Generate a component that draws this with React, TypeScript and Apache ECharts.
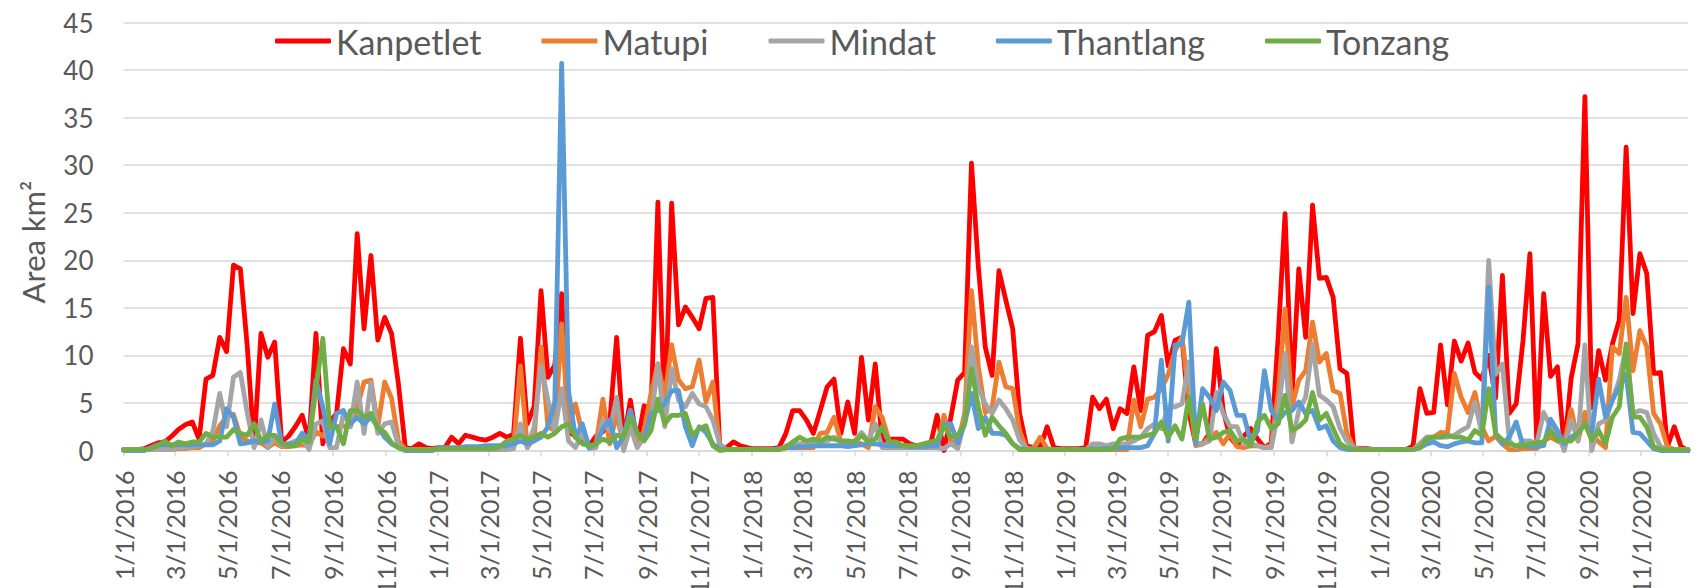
import React, { useEffect, useRef } from "react";
import * as echarts from "echarts";

// 8-day composites: 46 observations per year, starting Jan 1 of each year
const YEARS = [2016, 2017, 2018, 2019, 2020];
const STEP_DAYS = 8;
const SERIES_NAMES = ["Kanpetlet", "Matupi", "Mindat", "Thantlang", "Tonzang"];
const COLORS = ["#FF0000", "#ED7D31", "#A5A5A5", "#5B9BD5", "#70AD47"];
const Y_TICKS = [0, 5, 10, 15, 20, 25, 30, 35, 40, 45];

const kanpetlet = [
  [0.1,0.1,0.1,0.2,0.5,0.8,0.9,1.5,2.2,2.7,3.0,1.2,7.5,7.9,11.9,10.4,19.5,19.1,11,0.5,12.3,9.8,11.4,0.9,1.5,2.5,3.7,1.0,12.3,0.7,3.0,3.9,10.7,9.1,22.8,12.8,20.5,11.6,14.0,12.3,7,0.3,0.2,0.7,0.3,0.2],
  [0.3,0.3,1.4,0.7,1.6,1.4,1.2,1.1,1.4,1.8,1.4,1.7,11.8,2.8,4.6,16.8,7.7,9.0,16.5,2.0,1.5,1.0,0.5,1.5,2.0,3.0,11.9,1.0,5.3,0.7,4.7,4.2,26.1,3.0,26.0,13.2,15.1,14.0,12.8,16.0,16.1,0.3,0.3,0.9,0.5,0.3],
  [0.2,0.2,0.2,0.2,0.3,1.8,4.2,4.2,3.2,1.8,4.2,6.7,7.5,1.8,5.1,1.8,9.8,3.2,9.1,1.0,1.2,1.2,1.2,0.7,0.5,0.4,0.5,3.7,0.0,3.5,7.4,8.2,30.2,19.3,10.9,7.9,18.9,15.8,12.8,3.9,0.5,0.3,0.3,2.5,0.3,0.2],
  [0.2,0.2,0.2,0.3,5.6,4.4,5.4,2.3,4.4,3.9,8.8,4.2,12.1,12.5,14.2,8.9,11.6,11.9,4.0,0.7,0.7,1.8,10.7,4.2,1.4,0.5,1.5,2.3,1.2,0.3,0.8,12.0,24.9,5.6,19.1,11.9,25.8,18.1,18.2,16.1,8.6,8.1,0.3,0.2,0.2,0.1],
  [0.1,0.1,0.1,0.1,0.1,0.5,6.5,3.9,4.0,11.1,4.8,11.5,9.4,11.3,8.2,7.5,10.0,5.5,18.4,3.9,4.9,11.6,20.7,1.0,16.5,7.8,8.8,0.2,7.6,11.2,37.2,4.5,10.5,7.4,11.2,13.7,31.9,14.4,20.7,18.6,8.1,8.2,0.4,2.5,0.4,0.0],
];
const matupi = [
  [0.1,0.1,0.1,0.1,0.1,0.1,0.1,0.1,0.2,0.2,0.3,0.3,0.7,1.0,2.6,3.5,3.8,1.5,1.0,0.8,0.8,0.3,0.8,0.4,0.4,0.5,0.6,0.5,2.0,1.5,2.5,2.5,2.6,2.5,4.5,7.2,7.4,2.5,7.2,5.5,1.0,0.1,0.1,0.1,0.1,0.1],
  [0.1,0.1,0.1,0.1,0.1,0.1,0.1,0.1,0.1,0.2,0.3,0.3,8.9,0.3,1.4,10.9,2.5,2.1,13.3,2.5,4.9,1.8,0.3,0.7,5.4,0.7,3.9,0.5,4.2,0.6,2.1,6.0,9.1,5.6,11.1,7.4,6.5,6.7,9.5,5.1,7.2,0.3,0.1,0.1,0.1,0.1],
  [0.1,0.1,0.1,0.1,0.1,0.3,0.3,0.3,0.3,0.3,1.8,1.9,3.5,0.9,0.7,1.0,0.7,0.3,4.6,3.5,1.0,0.5,0.3,0.4,0.3,0.3,0.5,0.4,3.7,1.0,0.7,3.9,16.8,8.8,4.0,4.5,9.3,6.7,6.5,2.1,0.2,0.2,1.4,0.2,0.1,0.1],
  [0.1,0.1,0.1,0.1,0.1,0.1,0.1,0.1,0.1,0.1,5.3,2.5,5.4,5.6,6.5,8.0,10.5,11.9,6.0,0.5,0.7,1.4,1.9,0.7,1.8,0.4,0.3,0.5,0.5,0.3,0.5,6.0,14.9,4.6,7.4,8.4,13.5,9.3,10.2,6.3,6.0,1.8,0.3,0.1,0.1,0.1],
  [0.1,0.1,0.1,0.1,0.1,0.1,0.7,1.4,1.4,1.9,1.8,8.1,5.6,4.0,6.1,2.5,1.0,1.5,0.7,0.1,0.1,0.2,0.2,0.2,1.0,1.4,1.0,0.7,4.3,1.0,4.0,1.8,0.9,0.3,10.9,10.2,16.1,8.4,12.6,10.9,3.9,2.8,0.4,0.1,0.1,0.1],
];
const mindat = [
  [0.1,0.1,0.1,0.1,0.1,0.1,0.1,0.1,0.3,0.3,0.4,0.5,0.7,2.0,6.0,2.5,7.7,8.2,4.0,0.3,3.2,0.3,1.4,0.5,0.7,1.0,1.2,0.1,2.8,3.1,0.3,0.3,3.9,2.5,7.2,1.8,7.1,1.8,2.8,3.0,0.5,0.1,0.1,0.1,0.1,0.1],
  [0.1,0.1,0.1,0.1,0.1,0.1,0.1,0.1,0.1,0.1,0.1,0.2,2.8,0.3,2.5,8.9,5.3,2.0,6.5,1.0,0.3,1.8,0.2,0.3,3.2,2.1,5.6,0.0,2.5,0.3,1.4,3.2,9.1,2.5,8.6,5.3,4.6,6.0,4.9,4.6,3.2,0.7,0.1,0.1,0.1,0.1],
  [0.1,0.1,0.1,0.1,0.1,0.5,0.7,0.7,0.8,0.8,0.9,1.0,1.4,1.0,0.5,1.0,1.9,1.0,2.8,0.3,0.3,0.3,0.3,0.3,0.3,0.3,0.3,0.3,0.2,0.7,0.2,3.2,10.9,6.7,4.9,3.9,5.3,4.4,3.2,1.1,0.2,0.1,0.1,0.1,0.1,0.1],
  [0.1,0.1,0.1,0.1,0.7,0.7,0.5,0.7,0.7,0.7,1.0,1.4,2.3,2.8,2.3,4.6,4.6,4.9,9.3,0.7,0.7,1.0,6.1,3.9,2.5,2.5,0.7,0.7,0.5,0.3,0.3,4.0,10.2,0.9,4.2,5.6,11.2,5.8,5.3,4.6,2.3,1.0,0.3,0.1,0.1,0.1],
  [0.1,0.1,0.1,0.1,0.1,0.1,0.7,1.4,1.4,1.4,1.4,1.6,2.1,2.5,5.1,1.8,20.0,8.0,9.1,1.0,0.3,1.0,1.0,0.7,4.0,2.5,1.8,0.0,3.2,1.0,11.1,0.0,2.8,3.2,5.3,7.4,10.9,3.9,4.2,4.0,1.8,0.4,0.1,0.1,0.1,0.1],
];
const thantlang = [
  [0.0,0.0,0.0,0.0,0.3,0.6,0.6,0.6,0.6,0.6,0.6,0.6,0.6,0.6,1.0,4.4,3.5,0.7,0.8,1.0,0.9,1.0,4.9,0.7,0.7,0.7,1.8,1.2,7.4,4.6,0.7,3.9,4.2,2.8,3.5,2.8,3.5,2.5,1.4,0.7,0.3,0.0,0.0,0.0,0.0,0.0],
  [0.3,0.3,0.3,0.3,0.4,0.4,0.4,0.5,0.5,0.5,0.5,0.7,1.0,0.7,1.0,1.4,2.5,5.1,40.7,6.3,1.4,2.8,0.3,0.7,2.3,3.2,0.3,1.5,4.2,1.8,1.2,3.9,4.2,4.9,6.3,6.3,2.5,0.5,2.5,1.9,0.7,0.1,0.1,0.1,0.1,0.1],
  [0.1,0.1,0.1,0.1,0.2,0.3,0.3,0.4,0.4,0.5,0.5,0.5,0.5,0.5,0.4,0.5,0.6,0.7,0.7,0.6,0.5,0.5,0.5,0.4,0.4,0.4,0.5,0.5,2.8,2.8,0.8,2.8,6.0,2.3,3.5,1.8,1.8,1.6,0.7,0.2,0.1,0.1,0.1,0.1,0.1,0.1],
  [0.1,0.1,0.1,0.1,0.2,0.2,0.2,0.2,0.3,0.3,0.3,0.3,0.5,1.8,9.5,1.0,11.1,11.2,15.6,0.7,6.5,5.6,4.2,7.2,6.3,3.7,3.7,0.9,2.1,8.4,4.2,3.2,4.0,4.2,5.1,3.9,4.2,2.3,2.6,1.0,0.3,0.1,0.1,0.1,0.1,0.1],
  [0.1,0.1,0.1,0.1,0.1,0.1,0.3,0.7,0.9,0.5,0.4,0.7,0.9,1.0,0.8,0.8,17.2,1.8,0.7,1.4,3.0,0.5,0.4,0.4,0.5,3.3,2.1,0.7,1.4,1.8,2.8,1.8,7.5,3.5,5.3,6.7,8.0,1.9,1.8,1.0,0.2,0.0,0.0,0.0,0.0,0.0],
];
const tonzang = [
  [0.1,0.1,0.1,0.1,0.2,0.5,1.0,0.5,0.9,0.7,0.9,0.9,1.8,1.4,1.4,1.4,2.2,1.8,1.6,2.8,1.0,1.6,1.6,0.7,0.5,0.5,1.2,0.9,6.5,11.8,2.5,2.5,0.7,4.2,4.2,3.5,3.9,2.3,1.9,0.8,0.3,0.1,0.1,0.1,0.1,0.1],
  [0.2,0.2,0.2,0.2,0.2,0.2,0.2,0.2,0.2,0.4,1.0,1.2,1.6,1.2,1.4,1.8,1.4,1.8,2.5,2.8,1.4,0.7,0.5,0.7,1.2,0.9,1.6,1.4,3.5,1.8,1.0,2.1,5.4,2.8,3.7,3.7,3.9,1.6,2.3,2.6,0.5,0.0,0.1,0.1,0.1,0.1],
  [0.1,0.1,0.1,0.1,0.1,0.3,0.9,1.4,1.0,1.2,1.0,1.4,1.2,1.0,1.0,0.9,1.6,0.9,1.2,2.5,0.9,0.9,0.5,0.5,0.5,0.7,0.9,1.1,2.6,1.4,1.6,2.8,8.6,4.6,1.6,3.5,2.6,1.8,0.7,0.1,0.1,0.1,0.1,0.1,0.1,0.1],
  [0.1,0.1,0.1,0.1,0.1,0.1,0.1,0.1,1.2,1.4,1.4,1.4,1.6,1.8,3.0,1.4,2.6,1.2,5.6,1.2,4.9,1.2,1.4,1.9,2.1,1.0,1.2,0.5,3.0,3.7,2.3,2.8,5.8,2.1,2.5,3.2,6.1,3.2,3.9,2.3,0.7,0.3,0.1,0.1,0.1,0.1],
  [0.1,0.1,0.1,0.1,0.1,0.1,0.3,1.2,1.4,1.4,1.6,1.4,1.4,1.1,2.1,1.6,6.5,1.8,1.1,0.7,0.5,0.5,0.7,0.8,0.9,2.1,1.1,1.0,1.0,1.8,2.8,1.1,2.1,0.7,3.5,4.6,11.2,3.5,3.5,2.5,0.4,0.1,0.1,0.1,0.1,0.1],
];
const SERIES_VALUES = [kanpetlet, matupi, mindat, thantlang, tonzang];

const DAY_MS = 86400000;
const START = Date.UTC(2016, 0, 1);

function dayIndexOf(year: number, k: number) {
  return Math.round((Date.UTC(year, 0, 1 + STEP_DAYS * k) - START) / DAY_MS);
}

const LAST_DAY = dayIndexOf(YEARS[YEARS.length - 1], 45);
const dayLabels: string[] = [];
const isTickDay: boolean[] = [];
for (let i = 0; i <= LAST_DAY; i++) {
  const dt = new Date(START + i * DAY_MS);
  const m = dt.getUTCMonth() + 1;
  const d = dt.getUTCDate();
  dayLabels.push(`${m}/${d}/${dt.getUTCFullYear()}`);
  isTickDay.push(d === 1 && m % 2 === 1);
}

const FONT = "Lato, 'Open Sans', sans-serif";
const TEXT = "#595959";

export default function App() {
  const ref = useRef<HTMLDivElement>(null);
  useEffect(() => {
    if (!ref.current) return;
    const chart = echarts.init(ref.current, undefined, { renderer: "svg" });
    const series = SERIES_NAMES.map((name, si) => {
      const data: [number, number][] = [];
      YEARS.forEach((y, yi) => {
        SERIES_VALUES[si][yi].forEach((v, k) => data.push([dayIndexOf(y, k), v]));
      });
      return {
        name,
        type: "line",
        data,
        symbol: "none",
        smooth: false,
        lineStyle: { color: COLORS[si], width: 4.8, cap: "round", join: "round" },
        itemStyle: { color: COLORS[si] },
      };
    });
    chart.setOption({
      animation: false,
      backgroundColor: "#FFFFFF",
      textStyle: { fontFamily: FONT },
      grid: {
        left: 123.5,
        top: 22.5,
        width: 1564.5,
        height: 428,
        containLabel: false,
        outerBoundsMode: "none",
      },
      legend: {
        data: SERIES_NAMES,
        left: 275,
        top: 24,
        padding: 0,
        icon: "roundRect",
        itemWidth: 56,
        itemHeight: 5,
        itemGap: 60,
        textStyle: { fontSize: 34, color: TEXT, fontFamily: FONT },
      },
      xAxis: {
        type: "category",
        data: dayLabels,
        boundaryGap: false,
        axisLine: { lineStyle: { color: "#D9D9D9", width: 1.5 } },
        axisTick: {
          show: true,
          length: 6,
          interval: (i: number) => isTickDay[i],
          lineStyle: { color: "#D9D9D9", width: 1.5 },
        },
        axisLabel: {
          interval: (i: number) => isTickDay[i],
          rotate: 90,
          margin: 20,
          fontSize: 25,
          color: TEXT,
          fontFamily: FONT,
        },
        splitLine: { show: false },
      },
      yAxis: {
        type: "value",
        min: Y_TICKS[0],
        max: Y_TICKS[Y_TICKS.length - 1],
        interval: 5,
        axisLine: { show: false },
        axisTick: { show: false },
        axisLabel: { fontSize: 26, color: TEXT, margin: 30, fontFamily: FONT },
        splitLine: { lineStyle: { color: "#D9D9D9", width: 1.5 } },
      },
      graphic: [
        {
          type: "text",
          x: 33,
          y: 242,
          rotation: Math.PI / 2,
          style: {
            text: "Area km²",
            fontSize: 31,
            fill: TEXT,
            fontFamily: FONT,
            align: "center",
            verticalAlign: "middle",
          },
        },
      ],
      series,
    });
    return () => chart.dispose();
  }, []);
  return (
    <div
      ref={ref}
      style={{ position: "absolute", left: 0, top: 0, width: 1699, height: 588 }}
    />
  );
}
